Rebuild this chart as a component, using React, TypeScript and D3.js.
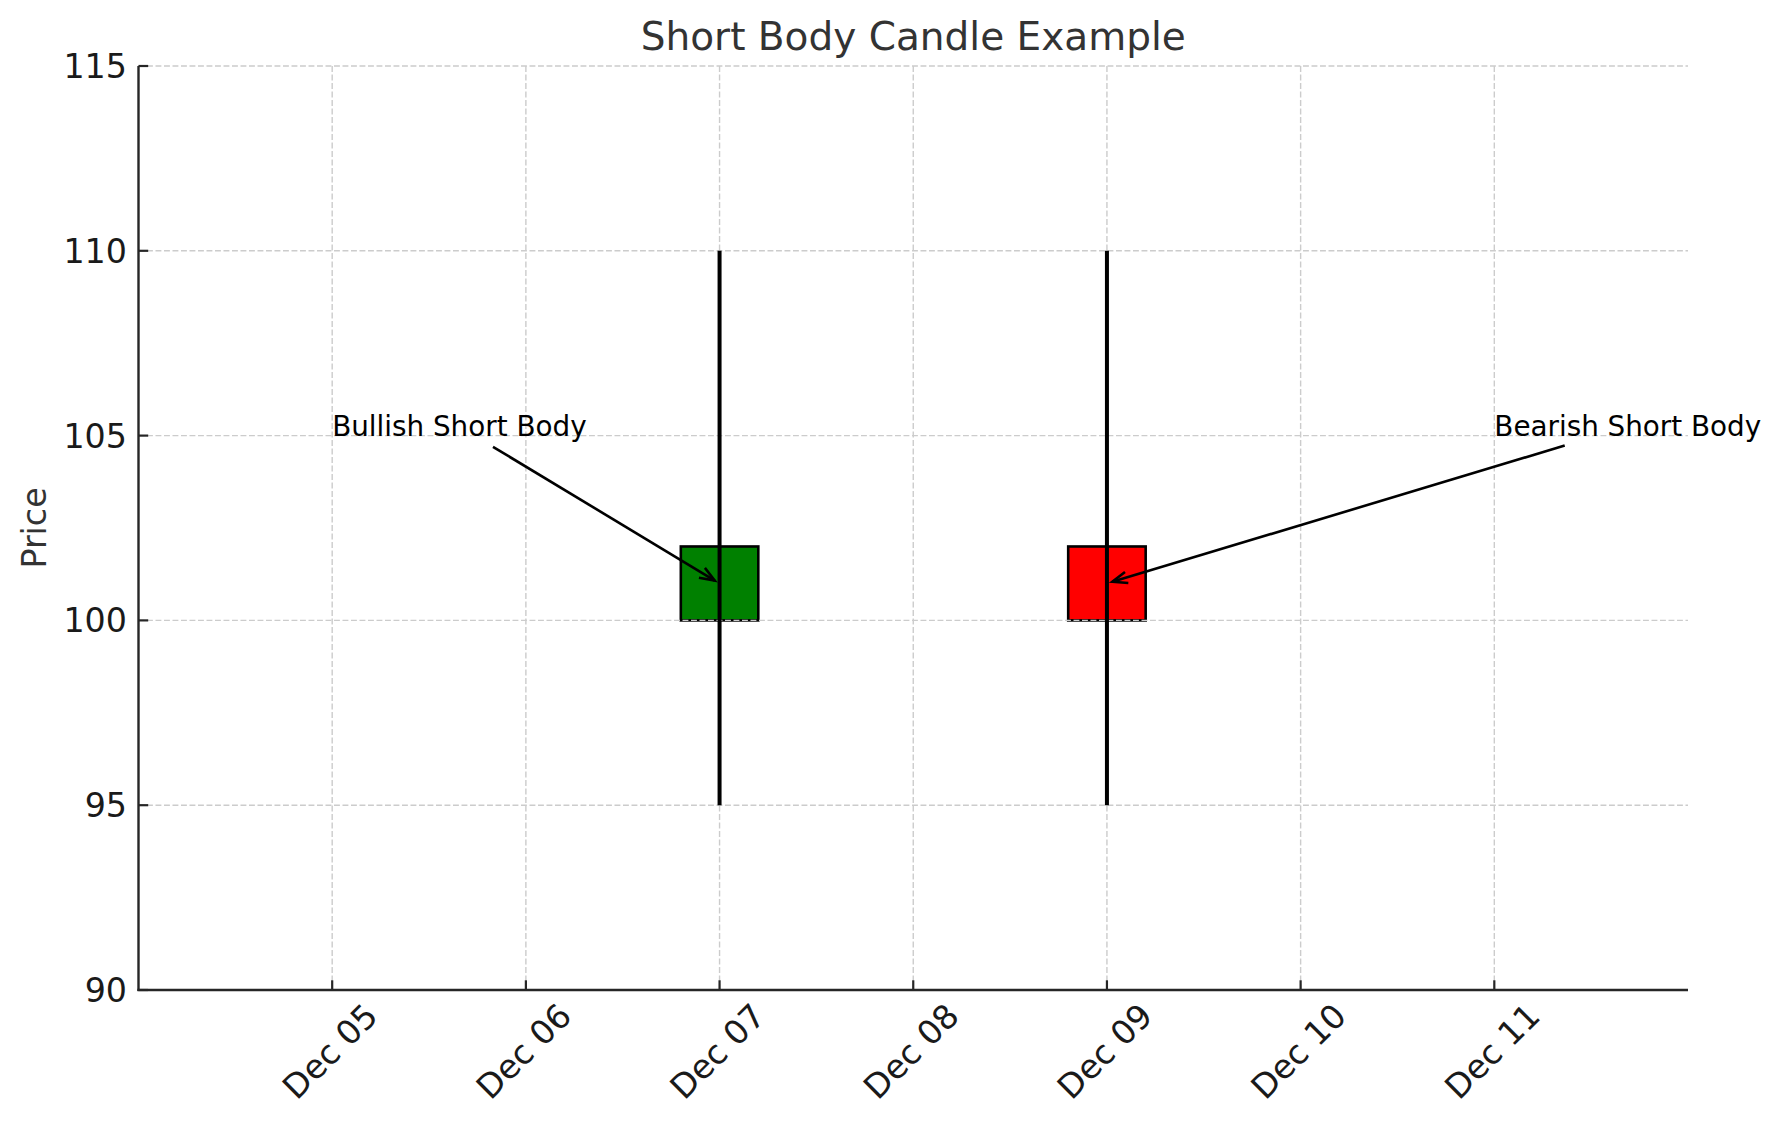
import React, { useEffect, useRef } from "react";
import * as d3 from "d3";

// ---- data ----
const candleDates = ["2023-12-07", "2023-12-09"];
const opens = [100, 102];
const closes = [102, 100];
const highs = [110, 110];
const lows = [95, 95];

const xTickDates = [
  "2023-12-05",
  "2023-12-06",
  "2023-12-07",
  "2023-12-08",
  "2023-12-09",
  "2023-12-10",
  "2023-12-11",
];
const yTicks = [90, 95, 100, 105, 110, 115];

const annotationLabels = ["Bullish Short Body", "Bearish Short Body"];
const annotationTextDates = ["2023-12-05", "2023-12-11"];
const annotationTextValues = [105, 105];
const annotationTargetDates = ["2023-12-07", "2023-12-09"];
const annotationTargetValues = [101, 101];

const xDomain = ["2023-12-04", "2023-12-12"];
const yDomain = [90, 115];

const W = 1780;
const H = 1126;
const FONT = "DejaVu Sans, sans-serif";

const parse = (s: string) => new Date(s + "T00:00:00");

export default function App() {
  const ref = useRef<SVGSVGElement | null>(null);

  useEffect(() => {
    const svg = d3.select(ref.current);
    svg.selectAll("*").remove();

    const left = 138.5;
    const right = 1688;
    const top = 66;
    const bottom = 990;

    const x = d3
      .scaleTime()
      .domain(xDomain.map(parse))
      .range([left, right]);
    const y = d3.scaleLinear().domain(yDomain).range([bottom, top]);

    const dayPx = x(parse("2023-12-02")) - x(parse("2023-12-01"));
    const bodyW = dayPx * 0.4;

    // bodies (zorder 1)
    const bodies = svg.append("g");
    candleDates.forEach((d, i) => {
      const cx = x(parse(d));
      const o = opens[i];
      const c = closes[i];
      bodies
        .append("rect")
        .attr("x", cx - bodyW / 2)
        .attr("y", y(Math.max(o, c)))
        .attr("width", bodyW)
        .attr("height", Math.abs(y(o) - y(c)))
        .attr("fill", c >= o ? "#008000" : "#ff0000")
        .attr("stroke", "#000")
        .attr("stroke-width", 2.6);
    });

    // grid (zorder 1.5)
    const grid = svg.append("g");
    xTickDates.forEach((d) => {
      grid
        .append("line")
        .attr("x1", x(parse(d)))
        .attr("x2", x(parse(d)))
        .attr("y1", top)
        .attr("y2", bottom)
        .attr("stroke", "#cccccc")
        .attr("stroke-width", 1.4)
        .attr("stroke-dasharray", "5.9,2.6");
    });
    yTicks.forEach((v) => {
      grid
        .append("line")
        .attr("x1", left)
        .attr("x2", right)
        .attr("y1", y(v))
        .attr("y2", y(v))
        .attr("stroke", "#cccccc")
        .attr("stroke-width", 1.4)
        .attr("stroke-dasharray", "5.9,2.6");
    });

    // wicks (zorder 2)
    const wicks = svg.append("g");
    candleDates.forEach((d, i) => {
      const cx = x(parse(d));
      wicks
        .append("line")
        .attr("x1", cx)
        .attr("x2", cx)
        .attr("y1", y(highs[i]))
        .attr("y2", y(lows[i]))
        .attr("stroke", "#000")
        .attr("stroke-width", 4);
    });

    // axes spines
    const axisColor = "#262626";
    svg
      .append("line")
      .attr("x1", left)
      .attr("x2", left)
      .attr("y1", top)
      .attr("y2", bottom + 1.1)
      .attr("stroke", axisColor)
      .attr("stroke-width", 2.4);
    svg
      .append("line")
      .attr("x1", left - 1.1)
      .attr("x2", right)
      .attr("y1", bottom)
      .attr("y2", bottom)
      .attr("stroke", axisColor)
      .attr("stroke-width", 2.4);

    // ticks (inward)
    const tickLen = 9.7;
    const tickFs = 33.3;
    yTicks.forEach((v) => {
      svg
        .append("line")
        .attr("x1", left)
        .attr("x2", left + tickLen)
        .attr("y1", y(v))
        .attr("y2", y(v))
        .attr("stroke", axisColor)
        .attr("stroke-width", 2.2);
      svg
        .append("text")
        .attr("x", left - 11.5)
        .attr("y", y(v))
        .attr("dy", "0.36em")
        .attr("text-anchor", "end")
        .attr("font-family", FONT)
        .attr("font-size", tickFs)
        .attr("fill", "#1a1a1a")
        .text(String(v));
    });

    const fmt = d3.timeFormat("%b %d");
    xTickDates.forEach((d) => {
      const tx = x(parse(d));
      svg
        .append("line")
        .attr("x1", tx)
        .attr("x2", tx)
        .attr("y1", bottom)
        .attr("y2", bottom - tickLen)
        .attr("stroke", axisColor)
        .attr("stroke-width", 2.2);
      const t = svg
        .append("text")
        .attr("font-family", FONT)
        .attr("font-size", tickFs)
        .attr("fill", "#1a1a1a")
        .attr("text-anchor", "end")
        .text(fmt(parse(d)));
      const w = (t.node() as SVGTextElement).getComputedTextLength();
      const a = 0.76 * tickFs;
      const dd = 0.24 * tickFs;
      const topY = bottom + 10;
      const px = tx - 0.3535 * (dd - w - a);
      const py = topY + 0.707 * a;
      t.attr("transform", `translate(${px},${py}) rotate(-45)`);
    });

    // y label
    svg
      .append("text")
      .attr("transform", `translate(${34},${(top + bottom) / 2}) rotate(-90)`)
      .attr("dy", "0.36em")
      .attr("text-anchor", "middle")
      .attr("font-family", FONT)
      .attr("font-size", tickFs)
      .attr("fill", "#333333")
      .text("Price");

    // title
    svg
      .append("text")
      .attr("x", (left + right) / 2)
      .attr("y", 49.5)
      .attr("text-anchor", "middle")
      .attr("font-family", FONT)
      .attr("font-size", 39)
      .attr("fill", "#333333")
      .text("Short Body Candle Example");

    // annotations
    const annFs = 27.8;
    annotationLabels.forEach((label, i) => {
      const tx = x(parse(annotationTextDates[i]));
      const ty = y(annotationTextValues[i]);
      const t = svg
        .append("text")
        .attr("x", tx)
        .attr("y", ty)
        .attr("font-family", FONT)
        .attr("font-size", annFs)
        .attr("fill", "#000")
        .text(label);
      const w = (t.node() as SVGTextElement).getComputedTextLength();
      const bx0 = tx - 1;
      const bx1 = tx + w + 1;
      const by0 = ty - 0.95 * annFs;
      const by1 = ty + 0.3 * annFs;
      const cx = (bx0 + bx1) / 2;
      const cy = (by0 + by1) / 2;
      const gx = x(parse(annotationTargetDates[i]));
      const gy = y(annotationTargetValues[i]);
      const dx = gx - cx;
      const dy = gy - cy;
      const len = Math.hypot(dx, dy);
      const ux = dx / len;
      const uy = dy / len;
      const tX = ux !== 0 ? (ux > 0 ? (bx1 - cx) / dx : (bx0 - cx) / dx) : Infinity;
      const tY = uy !== 0 ? (uy > 0 ? (by1 - cy) / dy : (by0 - cy) / dy) : Infinity;
      const tE = Math.min(tX, tY);
      const shrink = 5.6;
      const sx = cx + dx * tE + ux * shrink;
      const sy = cy + dy * tE + uy * shrink;
      const ex = gx - ux * shrink;
      const ey = gy - uy * shrink;
      const g = svg.append("g");
      g.append("line")
        .attr("x1", sx)
        .attr("y1", sy)
        .attr("x2", ex)
        .attr("y2", ey)
        .attr("stroke", "#000")
        .attr("stroke-width", 2.6);
      const hl = 15;
      const hw = 5.8;
      const bxp = ex - ux * hl;
      const byp = ey - uy * hl;
      const nx = -uy;
      const ny = ux;
      g.append("path")
        .attr(
          "d",
          `M${bxp + nx * hw},${byp + ny * hw} L${ex},${ey} L${bxp - nx * hw},${byp - ny * hw}`
        )
        .attr("fill", "none")
        .attr("stroke", "#000")
        .attr("stroke-width", 2.6)
        .attr("stroke-linejoin", "miter");
    });
  }, []);

  return (
    <svg
      ref={ref}
      width={W}
      height={H}
      style={{ position: "absolute", left: 0, top: 0, background: "#fff" }}
    />
  );
}
